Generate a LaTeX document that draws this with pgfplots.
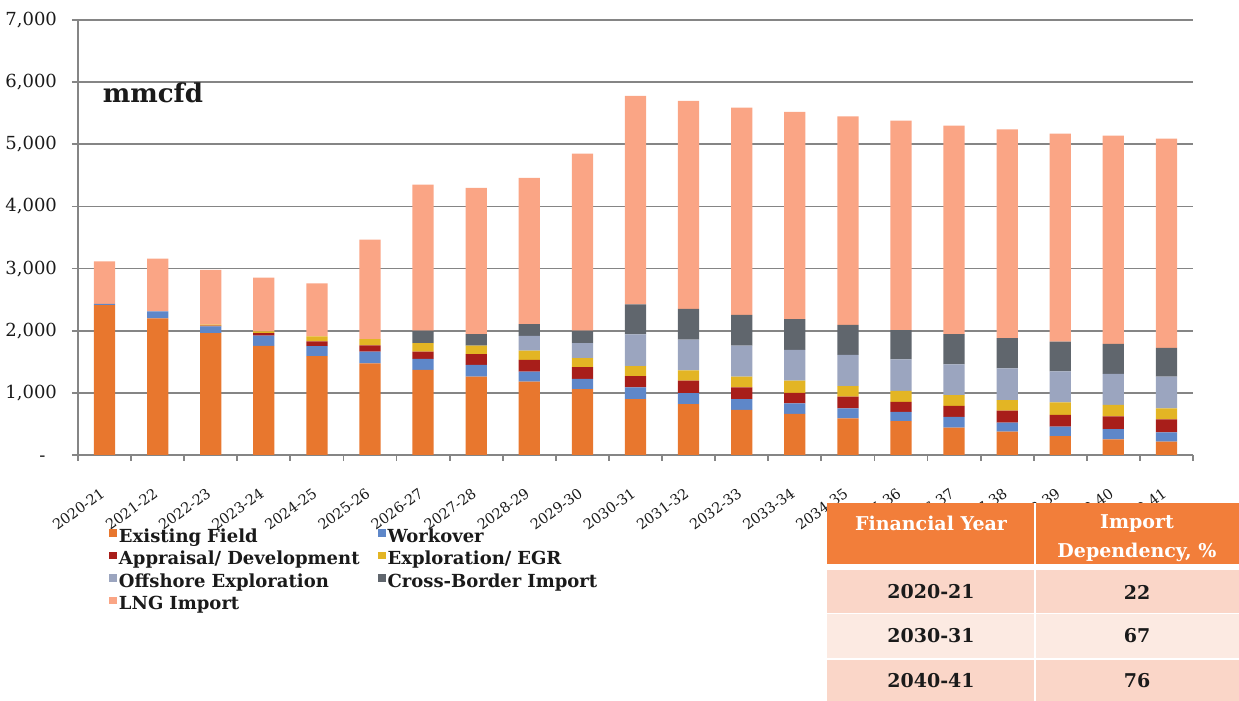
\documentclass[border=0pt]{standalone}
\usepackage{pgfplots}
\pgfplotsset{compat=1.18}
\usepackage{pgfplotstable}
\usepackage{fontspec}
\setmainfont{DejaVu Serif}
\definecolor{cEF}{HTML}{E8772E}
\definecolor{cWO}{HTML}{5E87C9}
\definecolor{cAD}{HTML}{A81E1A}
\definecolor{cEX}{HTML}{E3B524}
\definecolor{cOF}{HTML}{9BA5BF}
\definecolor{cCB}{HTML}{60666D}
\definecolor{cLNG}{HTML}{FAA585}
\definecolor{gridc}{HTML}{858585}
\definecolor{thead}{HTML}{F27E3A}
\definecolor{trowA}{HTML}{FAD6C8}
\definecolor{trowB}{HTML}{FCEAE2}
\definecolor{ttext}{HTML}{1A1A1A}

\pgfplotstableread{
x EF WO AD EX OF CB LNG
0 2410 20 0 0 0 0 685
1 2200 110 0 0 0 0 850
2 1960 110 10 20 0 0 880
3 1755 165 40 30 0 0 865
4 1590 160 80 80 0 0 850
5 1475 190 100 100 0 0 1600
6 1370 175 120 135 0 200 2350
7 1260 190 175 135 0 185 2355
8 1180 160 190 150 235 190 2355
9 1060 165 190 145 240 200 2850
10 900 190 180 160 510 485 3355
11 820 175 200 165 495 495 3350
12 725 175 190 170 500 495 3335
13 660 170 170 195 495 495 3335
14 590 160 190 170 500 485 3355
15 545 150 160 175 510 470 3370
16 440 175 175 175 495 485 3355
17 375 145 195 170 510 485 3360
18 305 150 190 200 500 480 3345
19 250 165 205 185 500 485 3350
20 215 150 210 175 510 465 3365
}\data

\begin{document}
\begin{tikzpicture}
\path[use as bounding box] (0,0) rectangle (619.5pt,350.5pt);
\begin{axis}[
  at={(39pt,123pt)}, anchor=south west,
  scale only axis, width=557.5pt, height=217.5pt,
  ybar stacked, bar width=0.4,
  xmin=-0.5, xmax=20.5, ymin=0, ymax=7000,
  axis x line*=bottom, axis y line*=left,
  axis line style={-, draw=gridc, line width=0.9pt},
  ymajorgrids, grid style={draw=gridc, line width=0.9pt},
  tick align=outside, major tick length=3pt,
  tick style={draw=gridc, line width=0.9pt},
  ytick={0,1000,...,7000},
  yticklabels={{-\phantom{0}},{1,000},{2,000},{3,000},{4,000},{5,000},{6,000},{7,000}},
  yticklabel style={font=\fontsize{9}{10}\selectfont, text=ttext, xshift=-4pt},
  xtick={-0.5,0.5,...,20.5},
  x tick label as interval,
  xticklabels={2020-21,2021-22,2022-23,2023-24,2024-25,2025-26,2026-27,2027-28,2028-29,2029-30,2030-31,2031-32,2032-33,2033-34,2034-35,2035-36,2036-37,2037-38,2038-39,2039-40,2040-41},
  xticklabel shift=12pt,
  xticklabel style={yshift=-2.5pt, font=\fontsize{7.2}{8}\selectfont, text=ttext, rotate=36, anchor=east, inner xsep=1pt},
  legend columns=2,
  legend cell align=left,
  legend style={at={(0.0224,-0.154)}, anchor=north west, draw=none, fill=none,
    font=\bfseries\fontsize{9}{11}\selectfont, text=ttext,
    column sep=0pt, row sep=0pt,
    nodes={text width=128.5pt, align=left, inner xsep=1pt, inner ysep=1pt, text height=7pt, text depth=2.2pt}},
  legend image code/.code={\fill[#1] (0pt,0.3pt) rectangle (3.8pt,4.1pt);},
]
\addplot[fill=cEF, draw=none] table[x=x,y=EF]{\data};
\addplot[fill=cWO, draw=none] table[x=x,y=WO]{\data};
\addplot[fill=cAD, draw=none] table[x=x,y=AD]{\data};
\addplot[fill=cEX, draw=none] table[x=x,y=EX]{\data};
\addplot[fill=cOF, draw=none] table[x=x,y=OF]{\data};
\addplot[fill=cCB, draw=none] table[x=x,y=CB]{\data};
\addplot[fill=cLNG, draw=none] table[x=x,y=LNG]{\data};
\legend{Existing Field, Workover, Appraisal/ Development, Exploration/ EGR, Offshore Exploration, Cross-Border Import, LNG Import}
\node[font=\bfseries\fontsize{13}{15}\selectfont, text=ttext] at (axis cs:0.91,5830) {mmcfd};
\end{axis}
% table
\fill[thead] (413.5pt,68.5pt) rectangle (619.5pt,99pt);
\fill[trowA] (413.5pt,44pt) rectangle (619.5pt,65.5pt);
\fill[trowB] (413.5pt,21.5pt) rectangle (619.5pt,43.5pt);
\fill[trowA] (413.5pt,0pt) rectangle (619.5pt,20.5pt);
\fill[white] (517pt,0pt) rectangle (518pt,99pt);
\node[font=\bfseries\fontsize{9.5}{11}\selectfont, text=white] at (465.5pt,89pt) {Financial Year};
\node[font=\bfseries\fontsize{9.5}{14.5}\selectfont, text=white, align=center] at (568.5pt,81.5pt) {Import\\Dependency, \%};
\node[font=\bfseries\fontsize{9.5}{11}\selectfont, text=ttext] at (465.5pt,54.5pt) {2020-21};
\node[font=\bfseries\fontsize{9.5}{11}\selectfont, text=ttext] at (568.5pt,54.5pt) {22};
\node[font=\bfseries\fontsize{9.5}{11}\selectfont, text=ttext] at (465.5pt,32.5pt) {2030-31};
\node[font=\bfseries\fontsize{9.5}{11}\selectfont, text=ttext] at (568.5pt,32.5pt) {67};
\node[font=\bfseries\fontsize{9.5}{11}\selectfont, text=ttext] at (465.5pt,10pt) {2040-41};
\node[font=\bfseries\fontsize{9.5}{11}\selectfont, text=ttext] at (568.5pt,10pt) {76};
\end{tikzpicture}
\end{document}
